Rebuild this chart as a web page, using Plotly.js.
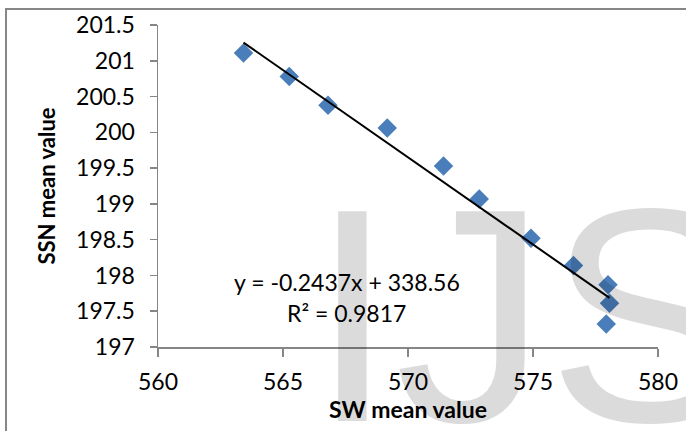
<!DOCTYPE html>
<html>
<head>
<meta charset="utf-8">
<script src="https://cdn.plot.ly/plotly-3.0.1.min.js"></script>
<style>html,body{margin:0;padding:0;background:#fff;}#chart{width:686px;height:431px;}</style>
</head>
<body>
<div id="chart"></div>
<script>
// Data
const swMean = [563.42, 565.25, 566.80, 569.17, 571.42, 572.85, 574.92, 576.62, 578.00, 578.06, 577.93];
const ssnMean = [201.11, 200.78, 200.38, 200.06, 199.53, 199.07, 198.52, 198.14, 197.87, 197.61, 197.32];

// Linear trendline as printed on the chart
const trendSlope = -0.2437;
const trendIntercept = 338.56;
const equationText = "y = -0.2437x + 338.56";
const r2Text = "R² = 0.9817";

// Axis ticks
const xTicks = [560, 565, 570, 575, 580];
const xTickLabels = ["560", "565", "570", "575", "580"];
const yTicks = [197, 197.5, 198, 198.5, 199, 199.5, 200, 200.5, 201, 201.5];
const yTickLabels = ["197", "197.5", "198", "198.5", "199", "199.5", "200", "200.5", "201", "201.5"];

const xTitle = "SW mean value";
const yTitle = "SSN mean value";
const watermark = "IJSER";

const xMin = Math.min(...swMean), xMax = Math.max(...swMean);
const trendX = [xMin, xMax];
const trendY = trendX.map(v => trendSlope * v + trendIntercept);

const W = 686, H = 431;
const M = {l: 158, r: 28, t: 25, b: 84};
const pw = W - M.l - M.r, ph = H - M.t - M.b;
const px2paperX = p => (p - M.l) / pw;
const px2paperY = p => (H - M.b - p) / ph;

const font = "Lato, 'Open Sans', sans-serif";
const axisGrey = "#868686";
const tickSize = 23;

const traces = [
  {
    type: "scatter", mode: "markers", x: swMean, y: ssnMean,
    marker: {symbol: "diamond", size: 15, color: "#4A7EBB", line: {width: 0}},
    hoverinfo: "x+y", showlegend: false
  },
  {
    type: "scatter", mode: "lines", x: trendX, y: trendY,
    line: {color: "#000000", width: 2}, showlegend: false, hoverinfo: "skip"
  }
];

const layout = {
  width: W, height: H,
  margin: M,
  paper_bgcolor: "#ffffff", plot_bgcolor: "#ffffff",
  font: {family: font, size: tickSize, color: "#000"},
  showlegend: false,
  xaxis: {
    range: [560, 580], tickmode: "array", tickvals: xTicks, ticktext: xTickLabels,
    showgrid: false, zeroline: false, showline: true, linecolor: axisGrey, linewidth: 1.5,
    ticks: "outside", ticklen: 8, tickwidth: 1.5, tickcolor: axisGrey,
    ticklabelstandoff: 6,
    tickfont: {family: font, size: tickSize, color: "#000"},
    title: {text: xTitle, font: {family: font, size: 23, color: "#000", weight: "bold"}, standoff: 8}
  },
  yaxis: {
    range: [197, 201.5], tickmode: "array", tickvals: yTicks, ticktext: yTickLabels,
    showgrid: false, zeroline: false, showline: true, linecolor: axisGrey, linewidth: 1.5,
    ticks: "outside", ticklen: 7, tickwidth: 1.5, tickcolor: axisGrey,
    ticklabelstandoff: 10,
    tickfont: {family: font, size: tickSize, color: "#000"},
    title: {text: yTitle, font: {family: font, size: 22, color: "#000", weight: "bold"}, standoff: 14}
  },
  annotations: [
    {xref: "x", yref: "y", x: 567.55, y: 197.91, text: equationText, showarrow: false,
     xanchor: "center", yanchor: "middle", font: {family: font, size: tickSize, color: "#000"}},
    {xref: "x", yref: "y", x: 567.55, y: 197.47, text: r2Text, showarrow: false,
     xanchor: "center", yanchor: "middle", font: {family: font, size: tickSize, color: "#000"}},
    {xref: "paper", yref: "paper", x: px2paperX(308), y: px2paperY(315), text: watermark, showarrow: false,
     xanchor: "left", yanchor: "middle",
     font: {family: "'Liberation Sans', Arial, sans-serif", size: 305, color: "rgba(0,0,0,0.14)"}}
  ],
  shapes: [
    {type: "rect", xref: "paper", yref: "paper",
     x0: px2paperX(6), y0: px2paperY(H + 20), x1: px2paperX(W + 20), y1: px2paperY(9),
     line: {color: "#878787", width: 2}, fillcolor: "rgba(0,0,0,0)", layer: "below"}
  ]
};

Plotly.newPlot("chart", traces, layout, {staticPlot: true, displayModeBar: false});
</script>
</body>
</html>
